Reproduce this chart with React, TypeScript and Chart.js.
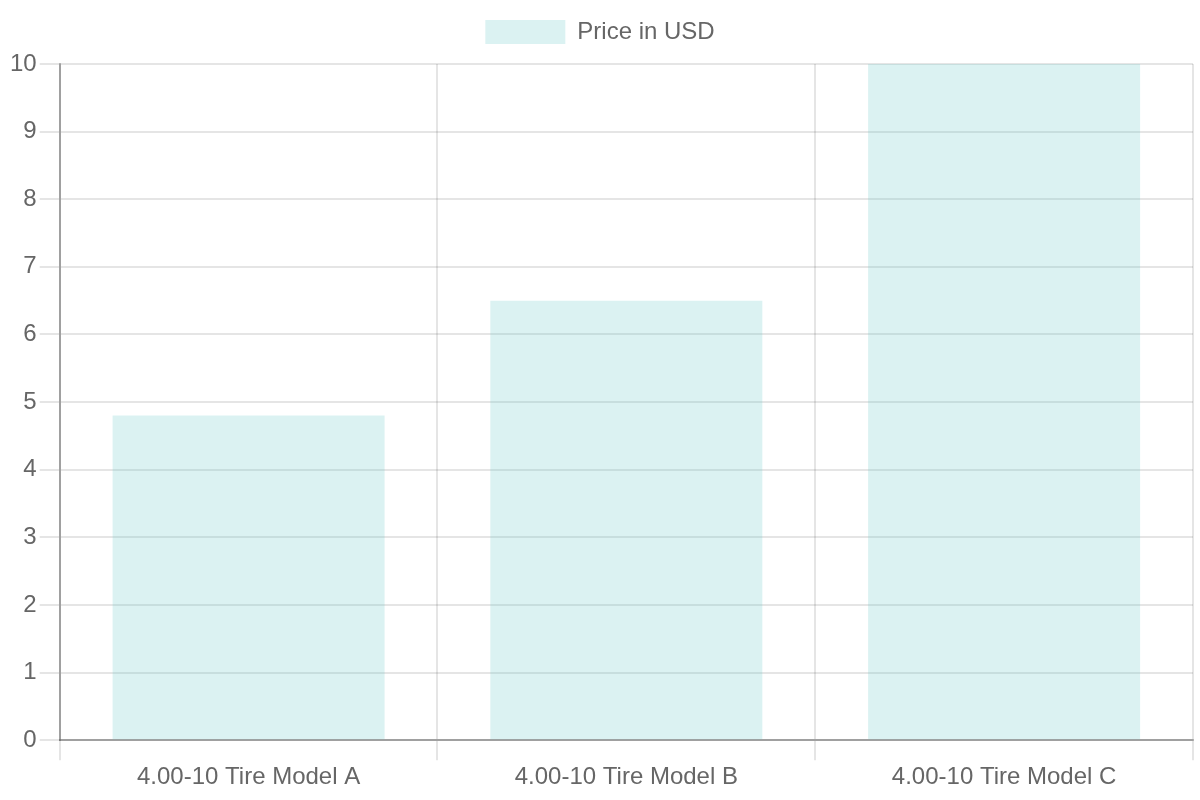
import { useEffect, useRef } from "react";
import { Chart, registerables } from "chart.js";

const tireModels = [
  "4.00-10 Tire Model A",
  "4.00-10 Tire Model B",
  "4.00-10 Tire Model C",
];
const pricesUsd = [4.8, 6.5, 10];
const seriesLabel = "Price in USD";

// extra gap between the legend and the plot area
const legendGap = {
  id: "legendGap",
  beforeInit(chart: any) {
    const fit = chart.legend.fit;
    chart.legend.fit = function () {
      fit.bind(chart.legend)();
      this.height += 10;
    };
  },
};

export default function App() {
  const canvasRef = useRef<HTMLCanvasElement>(null);

  useEffect(() => {
    document.body.style.margin = "0";
    const ctx = canvasRef.current!.getContext("2d")!;

    Chart.register(...registerables);
    Chart.defaults.color = "#666";
    Chart.defaults.font.family = "'Liberation Sans', Arial, sans-serif";
    Chart.defaults.font.size = 24;

    const gridColor = "rgba(0,0,0,0.1)";
    const axisColor = "rgba(0,0,0,0.3)";

    const chart = new Chart(ctx, {
      type: "bar",
      data: {
        labels: tireModels,
        datasets: [
          {
            label: seriesLabel,
            data: pricesUsd,
            backgroundColor: "rgba(75,192,192,0.2)",
            borderWidth: 0,
          },
        ],
      },
      options: {
        responsive: false,
        animation: false,
        layout: { padding: { left: 7, right: 7, bottom: 5 } },
        plugins: {
          legend: {
            labels: { boxWidth: 80, boxHeight: 24, padding: 20 },
          },
          tooltip: { enabled: false },
        },
        scales: {
          x: {
            grid: { color: gridColor, tickLength: 20, lineWidth: 2 },
            border: { color: axisColor, width: 2 },
            ticks: { padding: 3 },
          },
          y: {
            beginAtZero: true,
            max: 10,
            grid: { color: gridColor, tickLength: 20, lineWidth: 2 },
            border: { color: axisColor, width: 2 },
            ticks: { stepSize: 1, padding: 3 },
          },
        },
      },
      plugins: [legendGap],
    });

    return () => {
      chart.destroy();
    };
  }, []);

  return <canvas ref={canvasRef} width={1200} height={800} style={{ display: "block" }} />;
}
